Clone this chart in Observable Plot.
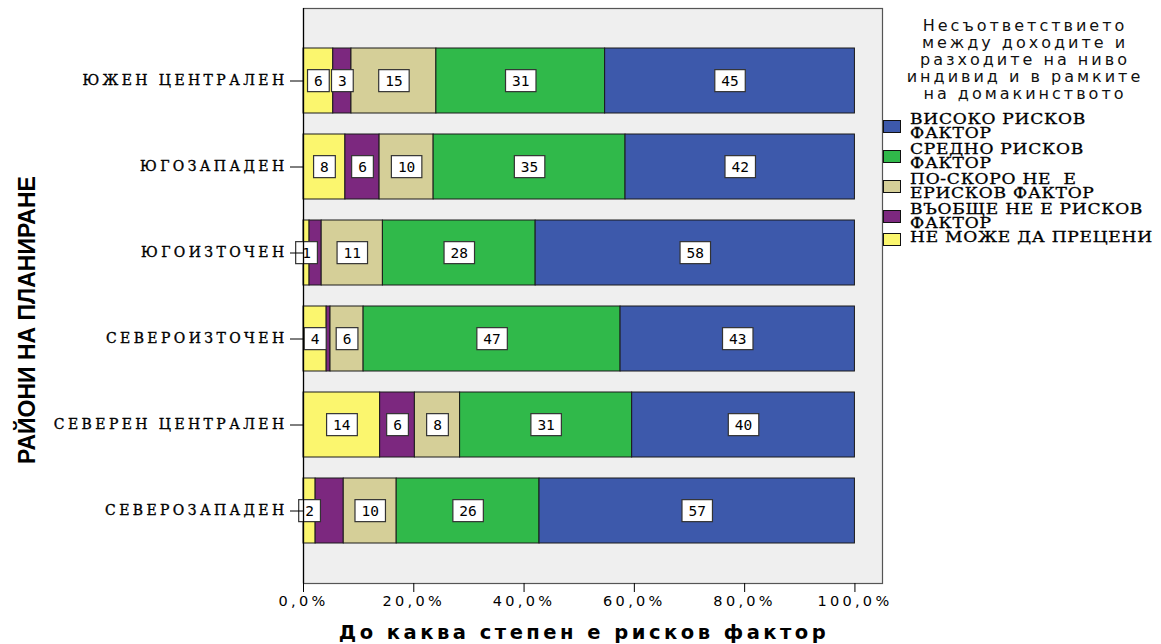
<!DOCTYPE html>
<html><head><meta charset="utf-8">
<script src="https://cdn.jsdelivr.net/npm/d3@7"></script>
<script src="https://cdn.jsdelivr.net/npm/@observablehq/plot@0.6"></script>
<style>
body{margin:0;background:#fff;}
#wrap{position:relative;width:1161px;height:644px;overflow:hidden;}
#wrap svg{position:absolute;left:0;top:0;}
g[aria-label="y-axis tick label"] text{letter-spacing:3.4px;stroke:#000;stroke-width:0.35px;}
g[aria-label="x-axis tick label"] text{letter-spacing:3.3px;}
.ytitle{position:absolute;left:27px;top:320px;transform:translate(-50%,-50%) rotate(-90deg);white-space:nowrap;font-family:"Liberation Sans Narrow","Liberation Sans",sans-serif;font-weight:bold;font-size:23px;color:#000;}
.xtitle{position:absolute;left:584px;top:632px;transform:translate(-50%,-50%);white-space:nowrap;font-family:"DejaVu Sans",sans-serif;font-weight:bold;font-size:19.5px;letter-spacing:3.5px;color:#000;}
.ltitle{position:absolute;left:890px;width:270px;top:17px;text-align:center;font-family:"DejaVu Sans",sans-serif;font-size:16px;line-height:17px;letter-spacing:3px;color:#111;}
.litem{position:absolute;left:883px;}
.lsw{position:absolute;left:0;width:16px;height:11px;border:1px solid #111;}
.ltxt{position:absolute;left:27px;white-space:pre;font-family:"DejaVu Serif",serif;font-size:14px;line-height:13.5px;letter-spacing:0.6px;color:#000;-webkit-text-stroke:0.3px #000;transform:scaleX(1.22);transform-origin:0 0;}
</style></head>
<body><div id="wrap"></div>
<script>
const regions = ["ЮЖЕН ЦЕНТРАЛЕН","ЮГОЗАПАДЕН","ЮГОИЗТОЧЕН","СЕВЕРОИЗТОЧЕН","СЕВЕРЕН ЦЕНТРАЛЕН","СЕВЕРОЗАПАДЕН"];
const categories = ["НЕ МОЖЕ ДА ПРЕЦЕНИ","ВЪОБЩЕ НЕ Е РИСКОВ ФАКТОР","ПО-СКОРО НЕ  Е ЕРИСКОВ ФАКТОР","СРЕДНО РИСКОВ ФАКТОР","ВИСОКО РИСКОВ ФАКТОР"];
const legendLabels = ["НЕ МОЖЕ ДА ПРЕЦЕНИ","ВЪОБЩЕ НЕ Е РИСКОВ\nФАКТОР","ПО-СКОРО НЕ  Е\nЕРИСКОВ ФАКТОР","СРЕДНО РИСКОВ\nФАКТОР","ВИСОКО РИСКОВ\nФАКТОР"];
const colors = ["#fbf66e","#7c287f","#d5cf98","#30b94a","#3d59ab"];
// percentages per region (same order as regions)
const notSure   = [5.4, 7.6, 1.1, 4.2, 13.9, 2.2];
const notAtAll  = [3.3, 6.2, 2.2, 0.7, 6.3, 5.1];
const ratherNot = [15.4, 9.8, 11.1, 6.0, 8.2, 9.6];
const medium    = [30.6, 34.8, 27.7, 46.6, 31.2, 25.9];
const high      = [45.3, 41.6, 57.9, 42.5, 40.4, 57.2];
// printed segment labels (null = no label shown)
const notSureLabels   = [6, 8, 1, 4, 14, 2];
const notAtAllLabels  = [3, 6, null, null, 6, null];
const ratherNotLabels = [15, 10, 11, 6, 8, 10];
const mediumLabels    = [31, 35, 28, 47, 31, 26];
const highLabels      = [45, 42, 58, 43, 40, 57];
const xTicks = [0, 0.2, 0.4, 0.6, 0.8, 1.0];
const yTitle = "РАЙОНИ НА ПЛАНИРАНЕ";
const xTitle = "До каква степен е рисков фактор";
const legendTitle = "Несъответствието<br>между доходите и<br>разходите на ниво<br>индивид и в рамките<br>на домакинството";

const series = [notSure, notAtAll, ratherNot, medium, high];
const labelSeries = [notSureLabels, notAtAllLabels, ratherNotLabels, mediumLabels, highLabels];
const data = [];
regions.forEach((r, i) => categories.forEach((c, j) => data.push({
  region: r, cat: c, value: series[j][i] / 100,
  label: labelSeries[j][i] == null ? "" : String(labelSeries[j][i])
})));

const plot = Plot.plot({
  width: 1161, height: 644,
  marginLeft: 303, marginRight: 279, marginTop: 8, marginBottom: 61,
  style: {background: "transparent", color: "#000"},
  x: {domain: [0, 1.05], label: null},
  y: {domain: regions, paddingInner: 0.25, paddingOuter: 0.43, label: null},
  color: {domain: categories, range: colors},
  marks: [
    Plot.frame({fill: "#efefef", stroke: "none"}),
    Plot.barX(data, Plot.stackX({y: "region", x: "value", z: "cat", fill: "cat", order: categories, stroke: "#1a1a1a", strokeWidth: 1})),
    Plot.text(data, Plot.stackX({y: "region", x: "value", z: "cat", order: categories, text: "label", fontFamily: "DejaVu Sans Mono", fontSize: 14.5, fill: "#000"})),
    Plot.frame({stroke: "#555", strokeWidth: 1.2}),
    Plot.ruleX([0], {stroke: "#000", strokeWidth: 1.2}),
    Plot.axisX({ticks: xTicks, tickFormat: d => (d * 100).toFixed(1).replace(".", ",") + "%", tickSize: 9, tickPadding: 3, fontSize: 14.5, fontFamily: "DejaVu Sans", label: null, stroke: "#000"}),
    Plot.axisY({tickSize: 13, tickPadding: 3, fontSize: 14, fontFamily: "DejaVu Serif", label: null, stroke: "#000"})
  ]
});

const wrap = document.getElementById("wrap");
wrap.appendChild(plot);

// white boxes behind segment labels
const svgNS = "http://www.w3.org/2000/svg";
plot.querySelectorAll("text").forEach(t => {
  const p = t.parentNode;
  const al = (p.getAttribute && p.getAttribute("aria-label")) || "";
  if (al.indexOf("axis") >= 0) return;
  if (!/^\d+$/.test(t.textContent.trim())) return;
  const b = t.getBBox();
  const cy = b.y + b.height / 2;
  const r = document.createElementNS(svgNS, "rect");
  r.setAttribute("x", b.x - 6.5);
  r.setAttribute("y", cy - 11);
  r.setAttribute("width", b.width + 13);
  r.setAttribute("height", 22);
  r.setAttribute("fill", "#fff");
  r.setAttribute("stroke", "#333");
  r.setAttribute("stroke-width", "1.2");
  if (t.getAttribute("transform")) r.setAttribute("transform", t.getAttribute("transform"));
  p.insertBefore(r, t);
});

// titles
const yt = document.createElement("div"); yt.className = "ytitle"; yt.textContent = yTitle; wrap.appendChild(yt);
const xt = document.createElement("div"); xt.className = "xtitle"; xt.textContent = xTitle; wrap.appendChild(xt);
const lt = document.createElement("div"); lt.className = "ltitle"; lt.innerHTML = legendTitle; wrap.appendChild(lt);

// legend (top = last category)
const itemCenters = [239, 216, 186, 156, 126];
categories.forEach((c, j) => {
  const it = document.createElement("div"); it.className = "litem";
  it.style.top = (itemCenters[j]) + "px";
  const sw = document.createElement("div"); sw.className = "lsw";
  sw.style.background = colors[j]; sw.style.top = "-6.5px";
  const tx = document.createElement("div"); tx.className = "ltxt";
  tx.textContent = legendLabels[j];
  const lines = legendLabels[j].split("\n").length;
  tx.style.top = (lines === 1 ? -8 : -13) + "px";
  it.appendChild(sw); it.appendChild(tx);
  wrap.appendChild(it);
});
</script>
</body></html>
